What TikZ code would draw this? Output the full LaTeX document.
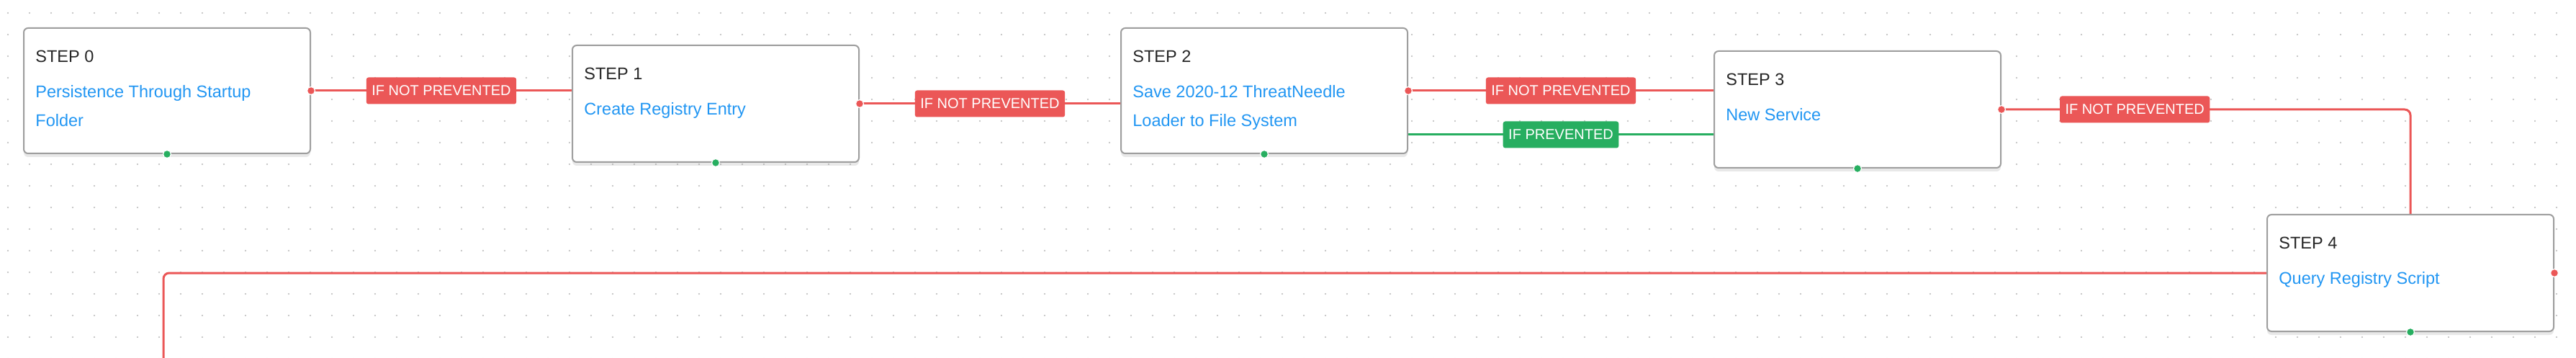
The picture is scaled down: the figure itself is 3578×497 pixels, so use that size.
\documentclass[tikz,border=0pt]{standalone}
\usepackage{fontspec}
\setmainfont{Liberation Sans}
\usepackage{xcolor}
\usetikzlibrary{calc,backgrounds,shadows}
\definecolor{failred}{HTML}{EB5757}
\definecolor{okgreen}{HTML}{27AE60}
\definecolor{linkblue}{HTML}{2196F3}
\definecolor{gridgray}{HTML}{B8B8B8}
\definecolor{boxgray}{HTML}{9E9E9E}
\tikzset{
  stepbox/.style   = {shape=rectangle, rounded corners=3pt,
                      draw=boxgray, line width=1pt, fill=white,
                      minimum width=199pt, minimum height=81pt,
                      anchor=north west, inner sep=0pt,
                      drop shadow={opacity=0.18, shadow xshift=0pt, shadow yshift=-2.5pt}
                      },
  tallbox/.style   = {stepbox, minimum height=87pt},
  steptitle/.style = {anchor=north west, inner sep=0pt,
                      font=\fontsize{11.75}{20}\selectfont, text=black!85},
  stepdesc/.style  = {steptitle, text=linkblue, align=left},
  tag/.style       = {shape=rectangle, rounded corners=1.5pt,
                      inner xsep=3.75pt, inner ysep=0pt, minimum height=18.5pt,
                      text=white, font=\fontsize{10}{12}\selectfont},
  redtag/.style    = {tag, fill=failred},
  greentag/.style  = {tag, fill=okgreen},
  outdot/.style    = {circle, fill=failred, draw=white, line width=0.6pt,
                      inner sep=0pt, minimum size=5.5pt},
  indot/.style     = {outdot, fill=okgreen}
}
\tikzstyle{notprev}=[draw=failred, line width=1.5pt, rounded corners=4pt]
\tikzstyle{prev}=[draw=okgreen, line width=1.5pt]

\begin{document}
\begin{tikzpicture}[x=0.5pt, y=-0.5pt]
    \useasboundingbox (0,0) rectangle (3578,497);

    % steps
    \node [tallbox] (s0) at (32,38) {};
    \node [steptitle] (s0t) at ($(s0.north west)+(17,31.6)$) {STEP 0};
    \node [stepdesc]  (s0d) at ($(s0.north west)+(17,79.6)$) {Persistence Through Startup\\Folder};

    \node [stepbox] (s1) at (794,62) {};
    \node [steptitle] (s1t) at ($(s1.north west)+(17,31.6)$) {STEP 1};
    \node [stepdesc]  (s1d) at ($(s1.north west)+(17,79.6)$) {Create Registry Entry};

    \node [tallbox] (s2) at (1556,38) {};
    \node [steptitle] (s2t) at ($(s2.north west)+(17,31.6)$) {STEP 2};
    \node [stepdesc]  (s2d) at ($(s2.north west)+(17,79.6)$) {Save 2020-12 ThreatNeedle\\Loader to File System};

    \node [stepbox] (s3) at (2380,70) {};
    \node [steptitle] (s3t) at ($(s3.north west)+(17,31.6)$) {STEP 3};
    \node [stepdesc]  (s3d) at ($(s3.north west)+(17,79.6)$) {New Service};

    \node [stepbox] (s4) at (3148,297) {};
    \node [steptitle] (s4t) at ($(s4.north west)+(17,31.6)$) {STEP 4};
    \node [stepdesc]  (s4d) at ($(s4.north west)+(17,79.6)$) {Query Registry Script};

    % handles
    \node [outdot] (h0) at (s0.east) {};
    \node [outdot] (h1) at (s1.east) {};
    \node [outdot] (h2) at (s2.east) {};
    \node [outdot] (h3) at (s3.east) {};
    \node [outdot] (h4) at (s4.east) {};
    \node [indot] (g0) at (s0.south) {};
    \node [indot] (g1) at (s1.south) {};
    \node [indot] (g2) at (s2.south) {};
    \node [indot] (g3) at (s3.south) {};
    \node [indot] (g4) at (s4.south) {};

    \coordinate (s2low) at ([yshift=-30.5pt]s2.east);
    \coordinate (s5in) at (227,580);

    \begin{scope}[on background layer]
      \fill [white] (0,0) rectangle (3578,497);
      \foreach \gx in {11,41,...,3581}
        \foreach \gy in {18,48,...,498}
          \fill [gridgray] (\gx,\gy) circle (0.6pt);

      \draw [notprev] (s0.east) -- (s0.east -| s1.west)
        node [redtag, midway] (l01) {IF NOT PREVENTED};
      \draw [notprev] (s1.east) -- (s1.east -| s2.west)
        node [redtag, midway] (l12) {IF NOT PREVENTED};
      \draw [notprev] (s2.east) -- (s2.east -| s3.west)
        node [redtag, midway] (l23) {IF NOT PREVENTED};
      \draw [prev] (s2low) -- (s2low -| s3.west)
        node [greentag, midway] (p23) {IF PREVENTED};
      \draw [notprev] (s3.east) -| (s4.north)
        node [redtag, pos=0.163] (l34) {IF NOT PREVENTED};
      \draw [notprev] (s4.east) -| (s5in);
    \end{scope}
\end{tikzpicture}
\end{document}
